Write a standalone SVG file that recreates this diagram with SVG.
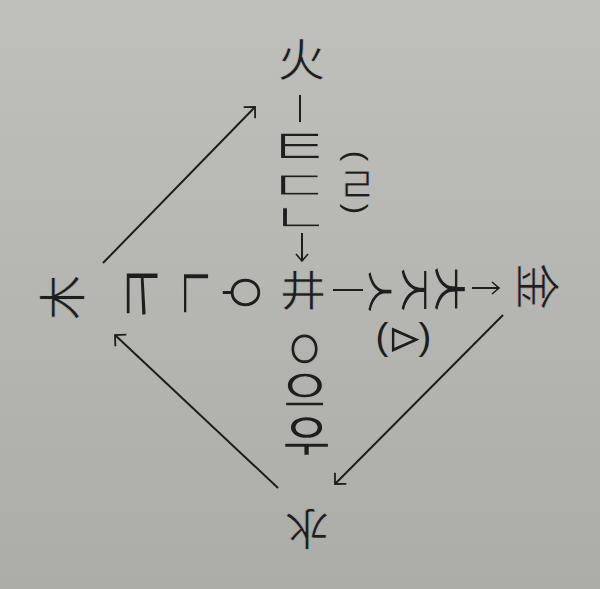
<svg xmlns="http://www.w3.org/2000/svg" width="600" height="589" viewBox="0 0 600 589">
<defs>
<linearGradient id="paper" gradientUnits="userSpaceOnUse" x1="0" y1="0" x2="0" y2="589">
<stop offset="0" stop-color="#bfbfbb"/>
<stop offset="1" stop-color="#acaca8"/>
</linearGradient>
<marker id="ah" viewBox="0 0 20 20" refX="10" refY="10" markerWidth="20" markerHeight="20" orient="auto" markerUnits="userSpaceOnUse">
<path d="M2,2 L10,10 L2,18" fill="none" stroke="#1e1e1e" stroke-width="1.8"/>
</marker>
<marker id="as" viewBox="0 0 14 14" refX="8" refY="7" markerWidth="14" markerHeight="14" orient="auto" markerUnits="userSpaceOnUse">
<path d="M1,1 L8,7 L1,13" fill="none" stroke="#1e1e1e" stroke-width="1.6"/>
</marker>
</defs>
<style>
.k{font-family:"Noto Sans CJK KR","Noto Sans CJK SC",sans-serif;font-size:100px;fill:#1e1e1e;stroke-width:2.4px;text-anchor:middle;dominant-baseline:central}
.h{font-family:"Noto Sans CJK SC","Noto Sans CJK JP",sans-serif;font-size:100px;fill:#1e1e1e;stroke-width:1.6px;text-anchor:middle;dominant-baseline:central}
.p{font-family:"Liberation Sans",sans-serif;font-size:100px;fill:#1e1e1e;text-anchor:middle;dominant-baseline:central}
#fire text{stroke:#babab6}
#earth text,#metal text,#wood text{stroke:#b6b6b2}
#water text{stroke:#b1b1ad}
#metal .p,#fire .p{stroke:none}
.ln{stroke:#1e1e1e;stroke-width:2;fill:none}
</style>
<rect width="600" height="589" fill="url(#paper)"/>

<g id="fire">
<text class="h" transform="translate(301.5,58.5) scale(0.478,0.453)" x="0" y="-3.5">火</text>
<line class="ln" x1="300" y1="95" x2="300" y2="122" stroke-width="2.5"/>
<text class="k" transform="translate(300,146) scale(0.69,0.538)" x="-1" y="-6">ㅌ</text>
<text class="k" transform="translate(300,185) scale(0.69,0.417)" x="-1" y="-6">ㄷ</text>
<text class="k" transform="translate(301,217.5) scale(0.655,0.396)" x="-1" y="-6">ㄴ</text>
<line class="ln" x1="302" y1="233" x2="302" y2="261" marker-end="url(#as)"/>
<text class="p" transform="translate(356,156) rotate(90) scale(0.31,0.29)" x="0" y="-1">(</text>
<text class="k" transform="translate(357.5,185) scale(0.431,0.52)" x="-1" y="-7">ㄹ</text>
<text class="p" transform="translate(356,209) rotate(90) scale(0.31,0.29)" x="0" y="-1">)</text>
</g>

<g id="earth">
<text class="h" transform="translate(303,290) scale(0.465,0.42)" x="0" y="-5.5">井</text>
</g>

<g id="metal">
<line class="ln" x1="333" y1="290" x2="363" y2="290" stroke-width="2.5"/>
<text class="k" transform="translate(380,292) rotate(90) scale(0.645,0.48)" x="-1" y="-7">ㅅ</text>
<text class="k" transform="translate(413.5,290) rotate(90) scale(0.71,0.52)" x="-1" y="-6">ㅈ</text>
<text class="k" transform="translate(451,289.5) rotate(90) scale(0.726,0.542)" x="-1" y="-2.5">ㅊ</text>
<line class="ln" x1="472" y1="288" x2="499" y2="288" marker-end="url(#as)"/>
<text class="h" transform="translate(538.5,286.5) rotate(90) scale(0.478,0.453)" x="0" y="-3.5">金</text>
<text class="p" transform="translate(382,337) scale(0.385,0.364)" x="0" y="-1">(</text>
<text class="k" transform="translate(405,340) rotate(90) scale(0.571,0.52)" x="-1" y="-5">ㅿ</text>
<text class="p" transform="translate(425,337) scale(0.385,0.364)" x="0" y="-1">)</text>
</g>

<g id="wood">
<text class="h" transform="translate(60.5,297.5) rotate(-90) scale(0.456,0.474)" x="0" y="-3.5">木</text>
<text class="k" transform="translate(141.5,294) rotate(-90) scale(0.75,0.635)" x="0" y="-6">ㅋ</text>
<text class="k" transform="translate(196,292.5) rotate(-90) scale(0.707,0.538)" x="-1" y="-6">ㄱ</text>
<text class="k" transform="translate(241.5,292) rotate(-90) scale(0.566,0.627)" x="-1.5" y="-5.5">ㆁ</text>
</g>

<g id="water">
<text class="k" transform="translate(304,347.5) rotate(180) scale(0.483,0.604)" x="-1" y="-7">ㅇ</text>
<text class="k" transform="translate(305,390) rotate(180) scale(0.8,0.596)" x="0" y="-6.5">ㆆ</text>
<text class="k" transform="translate(307,437.5) rotate(180) scale(0.74,0.66)" x="0" y="-4">ㅎ</text>
<text class="h" transform="translate(307,529) rotate(180) scale(0.444,0.442)" x="0" y="-3.5">水</text>
</g>

<g id="connectors">
<line class="ln" x1="103" y1="263" x2="255" y2="107" marker-end="url(#ah)"/>
<line class="ln" x1="503" y1="315" x2="335" y2="484" marker-end="url(#ah)"/>
<line class="ln" x1="278" y1="488" x2="115" y2="335" marker-end="url(#ah)"/>
</g>
</svg>
